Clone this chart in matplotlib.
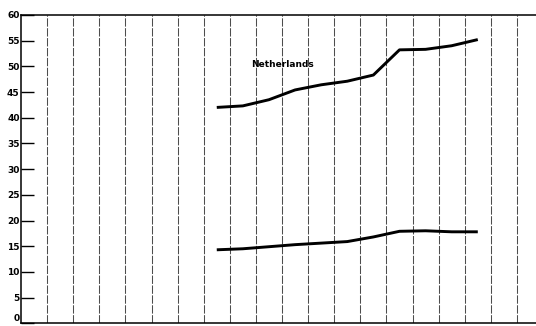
import matplotlib.pyplot as plt

# yearly values, plotted mid-interval between vertical gridlines
YEAR_POS = [7.5, 8.5, 9.5, 10.5, 11.5, 12.5, 13.5, 14.5, 15.5, 16.5, 17.5]
NETHERLANDS = [42.0, 42.3, 43.5, 45.4, 46.4, 47.1, 48.3, 53.2, 53.3, 54.0, 55.2]
LOWER = [14.3, 14.5, 14.9, 15.3, 15.6, 15.9, 16.8, 17.9, 18.0, 17.8, 17.8]

Y_TICKS = [0, 5, 10, 15, 20, 25, 30, 35, 40, 45, 50, 55, 60]
GRID_X = list(range(1, 20))


def main():
    fig = plt.figure(figsize=(5.36, 3.26), dpi=100)
    ax = fig.add_axes([21 / 536, 2.7 / 326, 1 - 21 / 536, 308.4 / 326])

    for gx in GRID_X:
        ax.axvline(gx, color='0.3', linewidth=0.75, linestyle=(0, (8, 1.5)), zorder=1)

    ax.plot(YEAR_POS, NETHERLANDS, color='black', linewidth=2.1,
            solid_capstyle='butt', zorder=3)
    ax.plot(YEAR_POS, LOWER, color='black', linewidth=2.1,
            solid_capstyle='butt', zorder=3)

    ax.text(10.0, 50.3, 'Netherlands', fontsize=6.5, fontweight='bold',
            ha='center', va='center', family='DejaVu Sans')

    ax.set_xlim(0, 19.73)
    ax.set_ylim(0, 60)
    ax.set_xticks([])
    ax.set_yticks(Y_TICKS)
    ax.set_yticklabels([str(t) for t in Y_TICKS], fontsize=6.5, fontweight='bold')
    ax.tick_params(axis='y', direction='in', length=9, width=1.0, pad=1)
    # keep the bottom label inside the image
    ax.get_yticklabels()[0].set_va('bottom')

    ax.spines['right'].set_visible(False)
    for s in ['left', 'bottom', 'top']:
        ax.spines[s].set_linewidth(1.1)
        ax.spines[s].set_color('black')

    fig.savefig('out.png', dpi=100)
    plt.close(fig)


if __name__ == '__main__':
    main()
